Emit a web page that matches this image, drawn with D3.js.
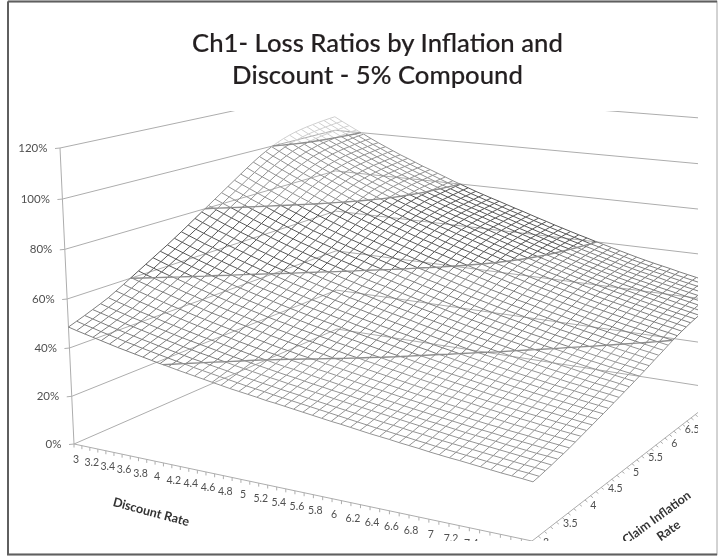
<!DOCTYPE html>
<html>
<head>
<meta charset="utf-8">
<script src="https://cdn.jsdelivr.net/npm/d3@7"></script>
<style>
  html, body { margin: 0; background: #fff; }
  svg { display: block; filter: blur(0.35px); }
  text { font-family: Lato, sans-serif; }
</style>
</head>
<body>
<div class="chart"></div>
<script>
const titleLines = ["Ch1- Loss Ratios by Inflation and", "Discount - 5% Compound"];
const percentTicks = [0, 20, 40, 60, 80, 100, 120];
const discountLabels = [3, 3.2, 3.4, 3.6, 3.8, 4, 4.2, 4.4, 4.6, 4.8, 5, 5.2, 5.4, 5.6, 5.8, 6, 6.2, 6.4, 6.6, 6.8, 7, 7.2, 7.4, 7.6, 7.8, 8];
const inflationLabels = [3, 3.5, 4, 4.5, 5, 5.5, 6, 6.5];
const bandLimits = [40, 60, 80, 100];
const bandColors = ["#949494", "#7e7e7e", "#585858", "#929292", "#d0d0d0"];

// loss ratio in tenths of a percent
// rows = claim inflation 3 to 8 in 0.125 steps, columns = discount rate 3 to 8 in 0.1 steps
const lossRatio = [
[486,477,469,461,453,445,437,430,423,416,409,402,396,389,383,377,371,365,359,353,348,343,338,332,328,323,318,313,308,303,298,294,289,284,279,275,271,266,262,258,253,249,245,242,238,234,230,226,223,220,216],
[498,489,481,472,464,456,448,441,433,426,419,412,405,399,392,386,380,374,368,362,356,351,346,340,335,330,325,320,315,310,305,300,295,290,285,281,276,272,267,263,258,254,250,246,242,238,235,231,227,224,220],
[510,501,492,483,475,467,459,451,444,436,429,422,415,408,402,395,389,383,376,370,365,359,354,348,343,338,332,327,322,317,312,307,302,297,292,288,283,278,274,269,264,260,256,252,248,244,240,236,232,229,225],
[523,514,505,496,487,479,471,463,455,447,440,432,425,418,412,405,399,392,386,380,374,368,363,357,352,346,341,336,330,325,320,315,310,305,300,295,290,285,280,276,271,266,262,258,254,250,246,242,238,234,230],
[536,526,517,508,499,491,482,474,466,458,450,443,436,429,422,415,408,402,395,389,383,377,371,366,360,354,349,343,338,333,327,322,317,311,306,301,296,291,287,282,277,272,268,264,260,255,251,247,243,240,236],
[550,540,531,521,512,504,495,486,478,470,462,454,447,440,433,426,419,412,405,399,392,386,381,375,369,363,358,352,346,341,335,330,324,319,313,308,303,298,293,288,283,278,274,270,265,261,257,253,249,245,241],
[567,557,547,537,528,519,510,501,493,484,476,468,461,453,446,438,431,424,417,411,404,398,392,386,379,374,368,362,356,350,344,339,333,327,322,317,311,306,301,296,291,286,281,277,272,268,264,259,255,251,247],
[584,573,563,553,544,534,525,516,507,498,490,482,474,466,459,451,444,437,429,422,416,409,403,397,390,384,378,372,366,360,354,348,342,336,330,325,320,314,309,304,298,293,289,284,279,275,271,266,262,258,254],
[602,591,581,570,561,551,541,532,523,514,505,497,489,481,473,465,458,450,443,436,429,422,415,409,402,396,389,383,377,371,365,358,352,346,340,335,329,324,318,313,307,302,297,292,287,283,278,274,269,265,261],
[620,608,598,587,577,567,557,548,538,529,520,511,503,495,487,479,471,463,456,448,441,434,428,420,414,407,401,394,388,381,375,369,362,356,350,344,338,333,327,321,316,311,305,300,295,291,286,281,277,272,268],
[638,626,615,604,594,584,573,564,554,544,535,526,518,509,501,492,484,477,469,461,454,447,440,432,426,419,412,405,399,392,385,379,372,366,360,354,348,342,336,330,324,319,314,309,303,298,294,289,284,279,275],
[656,644,632,621,611,600,590,579,569,560,550,541,532,523,515,506,498,490,482,474,466,459,452,444,437,430,423,416,409,403,396,389,382,376,369,363,357,351,345,339,333,328,322,317,311,306,301,296,291,286,282],
[674,662,650,638,627,616,606,595,585,575,565,556,547,538,529,520,511,503,495,487,479,472,464,456,449,442,435,428,421,414,406,399,393,386,379,373,367,360,354,348,342,336,331,325,320,314,309,304,299,294,289],
[692,679,667,655,644,633,622,611,601,590,580,570,561,552,543,534,525,516,508,500,492,484,477,468,461,453,446,439,431,424,417,410,402,396,389,382,376,369,363,357,350,345,339,333,327,322,317,311,306,301,296],
[711,698,685,673,662,650,639,628,617,606,596,586,576,567,557,548,539,530,522,513,505,497,489,481,473,465,458,450,443,435,428,420,413,406,399,392,385,379,372,366,359,353,347,341,335,330,325,319,314,309,304],
[730,717,704,691,680,668,656,645,634,623,612,602,592,582,572,563,554,544,536,527,519,510,503,494,486,478,470,462,454,447,439,431,424,417,409,402,395,389,382,375,368,362,356,350,344,338,333,327,322,317,311],
[750,736,723,710,698,686,674,663,651,640,628,618,608,598,588,578,568,559,550,541,532,524,516,507,499,491,483,475,466,458,450,443,435,427,420,413,406,399,392,385,378,372,365,359,353,347,341,335,330,324,319],
[770,756,742,729,717,704,692,680,668,657,645,634,624,613,603,593,583,574,565,555,546,538,529,520,512,503,495,487,478,470,462,454,446,438,430,423,416,409,401,394,387,381,374,368,362,355,349,343,338,332,326],
[790,775,762,748,735,722,710,698,686,674,662,651,640,629,619,608,599,589,579,570,560,552,543,534,525,516,508,499,491,482,474,466,457,449,441,434,426,419,412,404,397,390,384,377,371,364,358,352,346,340,334],
[810,795,781,767,754,741,728,716,703,691,679,667,656,645,635,624,614,604,594,584,574,565,557,547,538,529,520,511,503,494,485,477,468,460,452,444,437,429,421,414,406,400,393,386,379,373,367,360,354,348,342],
[830,815,801,787,773,759,746,734,721,708,696,684,673,661,650,639,629,619,609,598,589,579,570,560,551,542,533,524,515,506,497,488,480,471,463,455,447,439,431,424,416,409,402,395,388,381,375,368,362,356,350],
[850,835,820,806,792,778,765,752,739,726,713,701,689,678,667,655,644,634,624,613,603,594,584,574,565,555,546,537,527,518,509,500,491,482,474,466,458,450,442,434,426,419,412,405,398,391,384,377,371,364,358],
[870,854,840,825,811,797,783,769,756,743,730,717,706,694,682,671,660,649,638,628,618,608,598,588,578,568,559,549,540,530,521,512,503,494,485,477,469,460,452,444,436,429,421,414,407,400,393,386,380,373,367],
[890,874,859,844,829,815,801,787,774,760,747,734,722,710,698,686,675,664,653,642,632,622,612,601,592,582,572,562,552,542,533,524,514,505,496,488,479,471,463,454,446,439,431,424,416,409,402,395,388,382,375],
[910,894,878,863,848,833,819,805,791,778,764,751,739,726,714,702,690,679,668,657,646,636,625,615,605,595,585,575,565,555,545,535,526,517,507,499,490,481,473,465,456,449,441,433,426,418,411,404,397,390,383],
[930,913,897,882,867,852,837,823,809,795,781,767,755,742,730,717,705,694,682,671,660,650,639,628,618,608,597,587,577,567,557,547,537,528,518,509,501,492,483,475,466,458,450,442,435,427,420,413,406,399,392],
[949,932,916,900,885,869,854,840,825,811,797,783,770,757,744,732,720,708,696,685,674,663,652,641,631,620,610,599,589,578,568,558,548,539,529,520,511,502,493,484,475,467,459,451,444,436,429,421,414,407,400],
[967,950,933,917,901,886,870,856,841,826,812,798,785,772,759,746,733,721,710,698,686,675,665,653,643,632,621,610,600,589,579,569,559,549,539,530,521,511,502,493,484,476,468,460,452,444,437,429,422,415,407],
[983,965,949,932,916,900,885,870,855,840,826,811,798,784,771,758,746,733,721,710,698,687,676,664,653,642,632,620,610,599,589,578,568,558,548,538,529,520,511,502,493,484,476,468,460,452,444,437,429,422,414],
[998,980,963,946,930,914,898,883,868,853,838,824,810,796,783,770,757,744,732,720,708,697,686,674,663,652,641,630,619,608,597,587,576,567,556,547,537,528,518,509,500,491,483,475,467,459,451,443,436,428,420],
[1011,993,976,958,942,926,910,895,879,864,849,835,821,807,793,780,767,754,742,730,718,706,695,683,672,661,650,638,627,616,605,594,584,574,563,554,544,535,525,516,506,498,490,481,473,465,457,449,442,434,426],
[1022,1004,986,969,953,936,920,905,889,874,859,844,830,816,802,789,776,763,750,738,726,714,703,691,680,668,657,645,634,623,612,601,590,580,570,560,550,540,531,521,512,503,495,487,478,470,462,454,446,439,431],
[1031,1012,995,977,961,944,928,913,897,881,866,851,837,823,809,796,782,769,757,744,732,720,709,697,685,674,663,651,640,628,617,606,596,585,575,565,555,545,535,526,516,508,500,491,483,475,467,458,451,443,435],
[1039,1020,1003,985,968,952,935,920,904,888,873,858,844,830,816,802,789,776,763,750,738,726,715,703,691,680,668,656,645,634,622,611,601,590,580,570,559,550,540,531,521,512,504,496,487,479,471,463,455,447,439],
[1045,1026,1008,991,974,957,941,925,909,893,878,864,849,835,821,807,794,781,768,755,743,731,720,708,696,685,673,661,650,638,627,616,605,595,584,574,564,554,544,535,525,516,508,500,491,483,475,467,459,451,443],
[1050,1031,1013,995,979,962,945,929,913,898,883,868,854,840,826,812,798,785,772,759,747,735,723,712,700,688,677,665,654,642,631,620,609,598,588,577,567,557,547,538,528,519,511,503,494,486,478,470,462,454,446],
[1054,1035,1017,999,982,965,949,933,917,901,886,871,857,843,829,815,801,788,775,762,750,738,727,715,703,692,680,668,657,645,634,623,612,602,591,581,571,561,551,541,532,523,515,506,498,490,482,474,466,458,450],
[1058,1039,1021,1003,986,969,952,936,920,904,889,875,860,846,832,818,805,791,778,765,753,741,730,718,706,695,683,671,660,648,637,626,615,605,594,584,574,564,554,544,535,526,518,510,501,493,485,477,469,461,453],
[1061,1042,1024,1006,989,972,955,939,923,907,892,877,863,849,835,821,807,794,781,768,756,744,733,721,709,698,686,674,663,651,640,629,618,608,597,587,577,567,557,547,538,529,521,513,504,496,488,480,472,464,456],
[1064,1045,1027,1009,992,975,958,942,926,910,895,880,866,852,838,824,810,797,784,771,759,747,736,724,712,701,689,677,666,654,643,632,621,611,600,590,580,570,560,550,541,532,524,516,507,499,491,483,475,467,459],
[1066,1047,1029,1011,994,976,959,943,927,911,897,882,867,854,840,826,812,799,786,773,761,749,738,726,714,703,691,679,668,656,645,634,623,613,602,592,582,572,562,552,543,534,526,518,509,501,493,485,477,469,461]
];

const w = 719, h = 556;
const svg = d3.select(".chart").append("svg").attr("width", w).attr("height", h);

svg.append("defs").append("clipPath").attr("id", "plot-clip")
    .append("rect").attr("x", 0).attr("y", 111).attr("width", 698).attr("height", 430);

// frame
svg.append("rect").attr("x", 8).attr("y", 1.5).attr("width", 709).attr("height", 553)
    .attr("fill", "none").attr("stroke", "#c4c4c4").attr("stroke-width", 1.5);
svg.append("path").attr("d", "M8,1.5V554.5H717M8,1.5H717")
    .attr("fill", "none").attr("stroke", "#5f5f5f").attr("stroke-width", 2);

svg.append("text").attr("text-anchor", "middle").attr("fill", "#231f20")
    .attr("stroke", "#231f20").attr("stroke-width", 0.15)
    .style("font-size", "25.7px").style("font-weight", 500)
    .selectAll("tspan").data(titleLines).enter().append("tspan")
    .attr("x", 377.5).attr("y", (d, i) => 52 + i * 31.5).text(d => d);

// scales
const discountScale = d3.scaleLinear().domain([3, 8]).range([0, 1]);
const inflationScale = d3.scaleLinear().domain([3, 8]).range([0, 1]);
const percentScale = d3.scaleLinear().domain([0, 120]).range([0, 1]);
const nCols = lossRatio[0].length, nRows = lossRatio.length;
const colDiscount = d3.scaleLinear().domain([0, nCols - 1]).range([3, 8]);
const rowInflation = d3.scaleLinear().domain([0, nRows - 1]).range([3, 8]);
const pct = v => v / 10;

// perspective box: floor corners on the page, plus the top of the value axis
const A = [74, 444], B = [532, 541], C = [727, 390], D = [337, 329], axisTop = [60, 148];
const dx1 = B[0] - C[0], dx2 = D[0] - C[0], sx = A[0] - B[0] + C[0] - D[0];
const dy1 = B[1] - C[1], dy2 = D[1] - C[1], sy = A[1] - B[1] + C[1] - D[1];
const den = dx1 * dy2 - dx2 * dy1;
const g = (sx * dy2 - dx2 * sy) / den;
const k = (dx1 * sy - sx * dy1) / den;
const r = -0.04;
const m = {
    xu: B[0] - A[0] + g * B[0], xv: D[0] - A[0] + k * D[0], x0: A[0],
    yu: B[1] - A[1] + g * B[1], yv: D[1] - A[1] + k * D[1], y0: A[1],
    xz: axisTop[0] * (1 + r) - A[0], yz: axisTop[1] * (1 + r) - A[1]
};
function project(discount, inflation, percent) {
    const u = discountScale(discount), v = inflationScale(inflation), z = percentScale(percent);
    const n = 1 + g * u + k * v + r * z;
    return [(m.xu * u + m.xv * v + m.xz * z + m.x0) / n, (m.yu * u + m.yv * v + m.yz * z + m.y0) / n];
}

const plot = svg.append("g").attr("clip-path", "url(#plot-clip)");
const line = d3.line();

// walls and floor
const grid = plot.append("g").attr("fill", "none").attr("stroke", "#adadad").attr("stroke-width", 1);
percentTicks.forEach(p => {
    grid.append("path").attr("d", line([project(3, 3, p), project(3, 8, p), project(8, 8, p)]));
    const t = project(3, 3, p);
    grid.append("path").attr("d", line([[t[0] - 5, t[1] + 0.5], t]));
});
grid.append("path").attr("d", line([project(3, 3, 0), project(3, 3, 120)]));
grid.append("path").attr("d", line([project(3, 3, 0), project(8, 3, 0), project(8, 8, 0)]));

// axis ticks, every tenth of a discount point and eighth of an inflation point
d3.range(3, 8.01, 0.1).forEach(d => {
    const t = project(d, 3, 0);
    grid.append("path").attr("d", line([t, [t[0], t[1] + 3.5]]));
});
d3.range(3, 8.01, 0.125).forEach(d => {
    const t = project(8, d, 0);
    grid.append("path").attr("d", line([t, [t[0] + 2.5, t[1] + 2]]));
});

// wireframe, one path per value band
const bandPaths = bandColors.map(() => d3.path());
function addEdge(r0, c0, r1, c1) {
    const v0 = pct(lossRatio[r0][c0]), v1 = pct(lossRatio[r1][c1]);
    const band = d3.bisect(bandLimits, (v0 + v1) / 2);
    const p0 = project(colDiscount(c0), rowInflation(r0), v0);
    const p1 = project(colDiscount(c1), rowInflation(r1), v1);
    bandPaths[band].moveTo(p0[0], p0[1]);
    bandPaths[band].lineTo(p1[0], p1[1]);
}
for (let i = 0; i < nRows; i++) {
    for (let j = 0; j < nCols; j++) {
        if (j < nCols - 1) addEdge(i, j, i, j + 1);
        if (i < nRows - 1) addEdge(i, j, i + 1, j);
    }
}
plot.append("g").attr("fill", "none").attr("stroke-width", 1)
    .selectAll("path").data(bandPaths).enter().append("path")
    .attr("d", d => d.toString())
    .attr("stroke", (d, i) => bandColors[i]);

// band boundaries across the surface
const contourPath = d3.path();
bandLimits.forEach(level => {
    for (let i = 0; i < nRows - 1; i++) {
        for (let j = 0; j < nCols - 1; j++) {
            const corners = [[i, j], [i, j + 1], [i + 1, j + 1], [i + 1, j]];
            const hits = [];
            corners.forEach((a, n) => {
                const b = corners[(n + 1) % 4];
                const va = pct(lossRatio[a[0]][a[1]]), vb = pct(lossRatio[b[0]][b[1]]);
                if ((va < level) !== (vb < level)) {
                    const f = (level - va) / (vb - va);
                    hits.push(project(colDiscount(a[1] + f * (b[1] - a[1])), rowInflation(a[0] + f * (b[0] - a[0])), level));
                }
            });
            if (hits.length === 2) {
                contourPath.moveTo(hits[0][0], hits[0][1]);
                contourPath.lineTo(hits[1][0], hits[1][1]);
            }
        }
    }
});
plot.append("path").attr("d", contourPath.toString()).attr("fill", "none")
    .attr("stroke", "#8e8e8e").attr("stroke-width", 1.4);

// labels
const labels = plot.append("g").attr("fill", "#505050").style("font-size", "11.5px");
percentTicks.forEach(p => {
    const t = project(3, 3, p);
    labels.append("text").attr("x", t[0] - 12.5).attr("y", t[1] + 3.5)
        .attr("text-anchor", "end").text(p + "%");
});
discountLabels.forEach(d => {
    const t = project(d, 3, 0);
    labels.append("text").attr("x", t[0] + 2).attr("y", t[1] + 19)
        .attr("text-anchor", "middle").style("font-size", "10.5px").text(d);
});
inflationLabels.forEach(d => {
    const t = project(8, d, 0);
    labels.append("text").attr("x", t[0] + 14).attr("y", t[1] + 5)
        .attr("text-anchor", "middle").style("font-size", "10.5px").text(d);
});

const axisTitles = plot.append("g").attr("fill", "#333").attr("text-anchor", "middle")
    .style("font-size", "12.5px").style("font-weight", 700);
axisTitles.append("text").attr("transform", "translate(150,516) rotate(15)").text("Discount Rate");
axisTitles.append("text").attr("transform", "translate(659,521) rotate(-36)").text("Claim Inflation");
axisTitles.append("text").attr("transform", "translate(671,534) rotate(-36)").text("Rate");
</script>
</body>
</html>
